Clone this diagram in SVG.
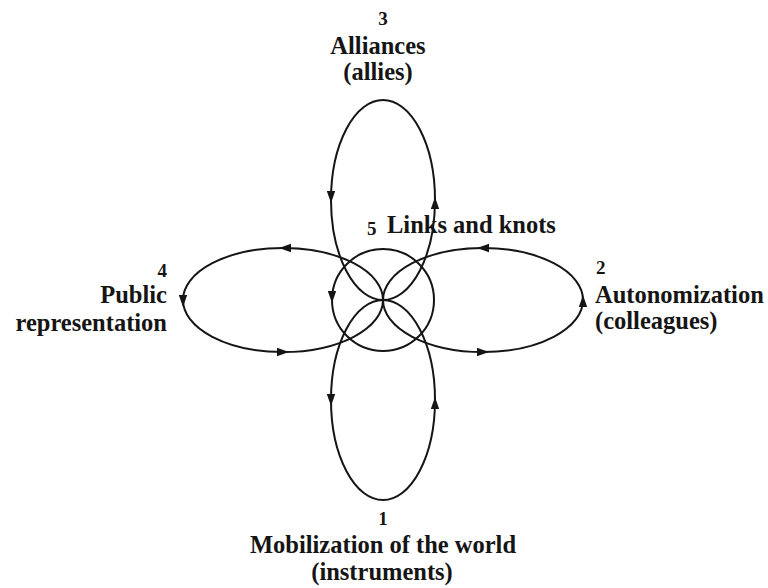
<svg xmlns="http://www.w3.org/2000/svg" xmlns:xlink="http://www.w3.org/1999/xlink" width="768" height="588" viewBox="0 0 768 588">
<style>
.ln{fill:none;stroke:#151515;stroke-width:2}
.ah{fill:#151515}
.t{font-family:"Liberation Serif","Times New Roman",serif;font-weight:bold;font-size:24.5px;fill:#151515}
.n{font-family:"Liberation Serif","Times New Roman",serif;font-weight:bold;font-size:19px;fill:#151515}
</style>
<defs>
<path id="ah" d="M6,0 L-6,-4.2 L-6,4.2 Z"/>
</defs>
<rect width="768" height="588" fill="#fff"/>
<g id="connectors">
<ellipse class="ln" cx="383" cy="200" rx="52" ry="100"/>
<ellipse class="ln" cx="383" cy="400" rx="52" ry="100"/>
<ellipse class="ln" cx="283" cy="300" rx="100" ry="52"/>
<ellipse class="ln" cx="483" cy="300" rx="100" ry="52"/>
<g class="ah">
<use xlink:href="#ah" transform="translate(331,197) rotate(90)"/>
<use xlink:href="#ah" transform="translate(435,203) rotate(-90)"/>
<use xlink:href="#ah" transform="translate(285,248) rotate(180)"/>
<use xlink:href="#ah" transform="translate(183,301) rotate(90)"/>
<use xlink:href="#ah" transform="translate(283,352)"/>
<use xlink:href="#ah" transform="translate(483,248) rotate(180)"/>
<use xlink:href="#ah" transform="translate(583,301) rotate(-90)"/>
<use xlink:href="#ah" transform="translate(483,352)"/>
<use xlink:href="#ah" transform="translate(331,400) rotate(90)"/>
<use xlink:href="#ah" transform="translate(435,403) rotate(-90)"/>
<use xlink:href="#ah" transform="translate(332,297) rotate(90)"/>
</g>
</g>
<g id="node5">
<circle class="ln" cx="383" cy="300" r="51"/>
<text class="n" x="367" y="235">5</text>
<text class="t" x="387" y="233">Links and knots</text>
</g>
<g id="node3">
<text class="n" x="383" y="25" text-anchor="middle">3</text>
<text class="t" x="378" y="54" text-anchor="middle">Alliances</text>
<text class="t" x="378" y="80" text-anchor="middle">(allies)</text>
</g>
<g id="node2">
<text class="n" x="596" y="274">2</text>
<text class="t" x="595" y="303">Autonomization</text>
<text class="t" x="595" y="329">(colleagues)</text>
</g>
<g id="node4">
<text class="n" x="167" y="277" text-anchor="end">4</text>
<text class="t" x="167" y="303" text-anchor="end">Public</text>
<text class="t" x="167" y="331" text-anchor="end">representation</text>
</g>
<g id="node1">
<text class="n" x="383" y="525" text-anchor="middle">1</text>
<text class="t" x="383" y="553" text-anchor="middle">Mobilization of the world</text>
<text class="t" x="382" y="580" text-anchor="middle">(instruments)</text>
</g>
</svg>
